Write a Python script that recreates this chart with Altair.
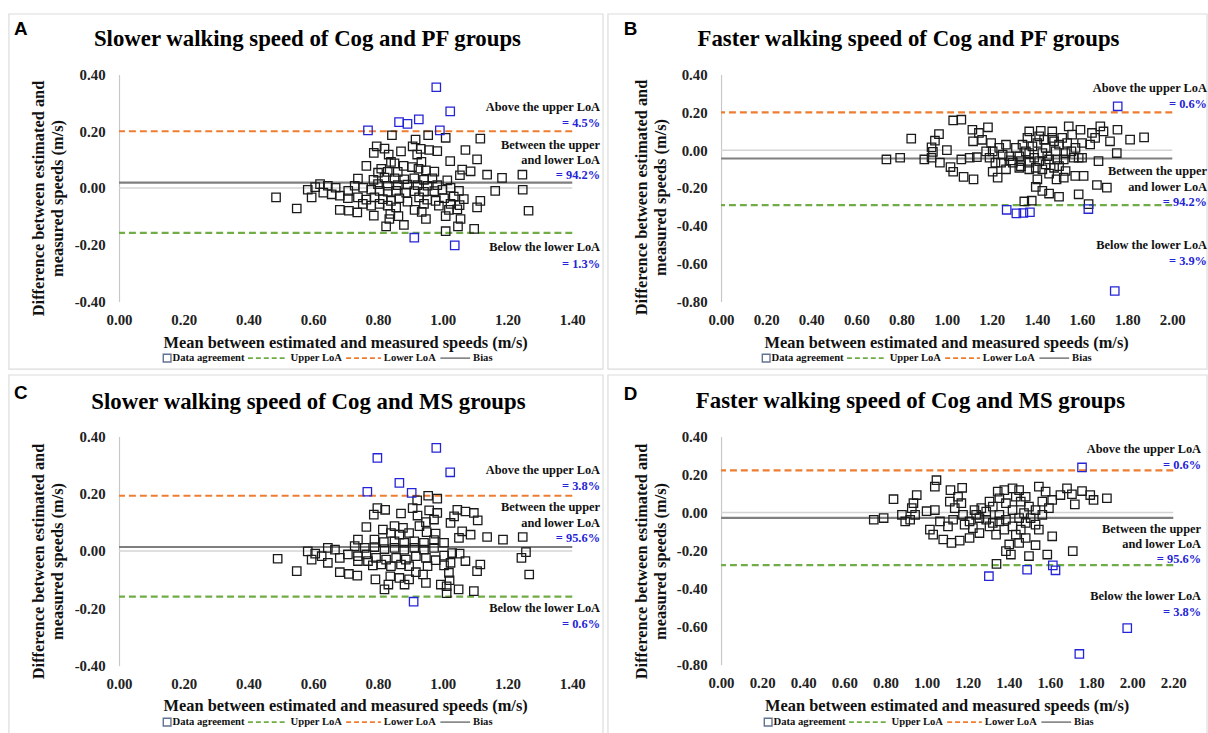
import altair as alt
import pandas as pd

SERIF = "Liberation Serif"
SANS = "Liberation Sans"
BLUE = "#2424d8"

# ---------------- data (mean, difference) ----------------
a_in = [(0.843,0.186),(0.955,0.186),(1.009,0.177),(1.116,0.174),(0.916,0.171),
 (0.796,0.147),(0.820,0.139),(0.787,0.124),(0.833,0.118),(0.871,0.129),(0.907,0.147),(0.932,0.138),(0.958,0.134),(0.983,0.130),(0.921,0.118),(1.070,0.134),(1.023,0.095),(1.106,0.101),(0.934,0.092),(0.840,0.092),(0.764,0.078),
 (0.810,0.068),(0.851,0.087),(0.879,0.078),(0.905,0.074),(0.925,0.068),(0.948,0.062),(0.974,0.058),(0.861,0.057),(0.830,0.057),(0.800,0.054),(0.738,0.033),(1.060,0.065),(1.086,0.059),(1.053,0.045),(1.137,0.047),(1.183,0.036),(1.246,0.047),(1.014,0.027),(0.786,0.029),(0.820,0.037),(0.851,0.034),(0.881,0.031),(0.912,0.034),(0.942,0.029),(0.968,0.034),(0.800,0.014),(0.830,0.008),(0.861,0.010),(0.891,0.012),(0.922,0.010),(0.953,0.008),(0.983,0.010),
 (0.621,0.014),(0.583,-0.006),(0.606,0.003),(0.645,0.008),(0.669,0.001),(0.631,-0.016),(0.657,-0.022),(0.708,-0.010),(0.728,0.008),(0.754,0.001),(0.779,-0.006),(0.805,-0.010),(0.830,-0.013),(0.856,-0.010),(0.887,-0.016),(0.912,-0.011),(0.942,-0.013),(0.974,-0.011),(0.999,-0.006),(1.024,0.001),(1.050,-0.010),(1.162,-0.010),(1.247,-0.006),(0.485,-0.033),
 (0.595,-0.033),(0.682,-0.027),(0.707,-0.036),(0.738,-0.033),(0.764,-0.041),(0.789,-0.033),(0.815,-0.039),(0.840,-0.045),(0.866,-0.036),(0.891,-0.048),(0.927,-0.033),(0.952,-0.041),(0.978,-0.045),(1.004,-0.036),(1.034,-0.030),(1.065,-0.039),(1.116,-0.045),(1.106,-0.068),(0.753,-0.056),(0.779,-0.062),(0.805,-0.056),(0.830,-0.062),(0.856,-0.068),(0.942,-0.056),(0.988,-0.062),(1.024,-0.056),(1.052,-0.060),(0.549,-0.072),(0.682,-0.077),(0.710,-0.080),(0.736,-0.086),(0.913,-0.077),(0.935,-0.084),(1.019,-0.077),(1.045,-0.075),(1.265,-0.080),(0.787,-0.097),(0.838,-0.091),(0.863,-0.099),(1.009,-0.099),(0.948,-0.109),(0.835,-0.109),(1.055,-0.109),(0.825,-0.135),(1.009,-0.152),(1.047,-0.135),(1.097,-0.144),(0.880,-0.130)]
a_out = [(0.980,0.355),(1.023,0.270),(0.865,0.232),(0.891,0.226),(0.926,0.242),(0.769,0.203),(0.991,0.203),(0.912,-0.175),(1.037,-0.202)]

b_in = [(1.029,0.157),(1.065,0.161),(0.843,0.061),(0.966,0.085),(0.948,0.050),(0.933,0.015),(1.001,0.000),(0.939,-0.009),(0.901,-0.049),(0.933,-0.040),(0.733,-0.049),(0.794,-0.040),(0.970,-0.066),(1.017,-0.089),(1.029,-0.114),(1.075,-0.141),(1.119,-0.154),(1.065,-0.049),(1.102,-0.040),(1.134,-0.037),
 (1.114,0.108),(1.143,0.091),(1.183,0.121),(1.117,0.047),(1.157,0.055),(1.197,0.038),(1.175,-0.006),(1.190,-0.040),(1.216,-0.066),(1.204,-0.114),(1.226,-0.145),(1.233,0.012),(1.263,0.029),(1.248,-0.023),(1.277,-0.032),(1.293,-0.066),(1.263,-0.101),(1.307,0.012),(1.322,-0.032),(1.329,-0.084),(1.351,-0.006),(1.358,0.065),(1.366,0.099),(1.380,0.020),(1.388,-0.040),(1.395,-0.093),(1.402,-0.154),
 (1.417,0.102),(1.432,0.055),(1.439,0.012),(1.446,-0.032),(1.439,-0.075),(1.454,-0.124),(1.468,0.099),(1.476,0.047),(1.483,-0.006),(1.490,-0.049),(1.487,-0.154),(1.498,-0.084),(1.519,-0.145),(1.541,0.126),(1.556,0.082),(1.534,0.038),(1.553,-0.006),(1.563,-0.040),(1.527,-0.110),(1.570,-0.136),(1.607,-0.136),(1.593,0.108),(1.600,0.038),(1.600,-0.040),
 (1.644,0.091),(1.658,0.065),(1.636,0.030),(1.681,0.126),(1.695,0.099),(1.724,0.047),(1.757,0.108),(1.754,-0.015),(1.673,-0.058),(1.666,-0.184),(1.710,-0.198),(1.585,-0.233),(1.813,0.056),(1.875,0.068),(1.395,-0.194),(1.424,-0.215),(1.454,-0.229),(1.498,-0.246),(1.344,-0.271),(1.377,-0.267),(1.629,-0.285),
 (1.204,-0.006),(1.241,-0.066),(1.285,-0.054),(1.329,-0.058),(1.366,-0.066),(1.410,-0.058),(1.454,-0.049),(1.519,-0.049),(1.585,-0.040),(1.336,0.029),(1.402,0.038),(1.498,0.029),(1.571,0.012),(1.366,-0.015),(1.424,-0.015),(1.527,-0.015),(1.410,0.073),(1.468,0.065),(1.512,0.065),(1.322,-0.093),(1.366,-0.101),(1.424,-0.101),(1.476,-0.093)]
b_out = [(1.758,0.232),(1.266,-0.315),(1.309,-0.334),(1.340,-0.332),(1.369,-0.328),(1.628,-0.311),(1.745,-0.744)]

c_in = [(0.955,0.193),(0.983,0.183),(0.921,0.177),(0.798,0.150),(0.822,0.144),(0.787,0.127),(0.871,0.131),(0.907,0.150),(0.958,0.142),(0.983,0.133),(0.922,0.124),(1.045,0.144),(1.070,0.138),(1.096,0.133),(1.035,0.121),(1.108,0.107),(1.024,0.098),(0.973,0.110),(0.948,0.101),(0.928,0.087),(0.764,0.084),(0.851,0.087),(0.877,0.081),(0.815,0.075),
 (0.840,0.063),(0.866,0.057),(0.896,0.063),(0.950,0.066),(0.978,0.061),(1.060,0.069),(1.086,0.057),(1.050,0.046),(1.137,0.049),(1.186,0.040),(1.247,0.049),(0.738,0.040),(0.789,0.040),(0.818,0.031),(0.851,0.034),(0.881,0.029),(0.912,0.034),(0.942,0.029),(0.973,0.038),(1.004,0.029),
 (0.728,0.017),(0.759,0.011),(0.789,0.014),(0.820,0.007),(0.851,0.011),(0.881,0.005),(0.912,0.011),(0.942,0.005),(0.973,0.011),(0.645,0.011),(0.583,-0.001),(0.606,-0.009),(0.626,-0.018),(0.667,0.005),(0.645,-0.041),(0.595,-0.030),(0.490,-0.027),
 (0.682,-0.024),(0.707,-0.012),(0.738,-0.018),(0.764,-0.012),(0.738,-0.035),(0.769,-0.035),(0.794,-0.024),(0.825,-0.030),(0.856,-0.024),(0.886,-0.030),(0.917,-0.018),(0.948,-0.024),(0.978,-0.032),(1.004,-0.016),(1.029,-0.007),(1.052,-0.009),(1.070,-0.035),(1.024,-0.041),
 (0.784,-0.050),(0.810,-0.047),(0.840,-0.053),(0.871,-0.047),(0.896,-0.053),(0.953,-0.053),(1.004,-0.050),(1.116,-0.047),(1.106,-0.070),(1.243,-0.024),(1.257,-0.004),(0.549,-0.070),(0.682,-0.074),(0.710,-0.080),(0.736,-0.086),(0.917,-0.074),(0.939,-0.082),(1.019,-0.076),(1.267,-0.082),
 (0.792,-0.099),(0.838,-0.088),(0.866,-0.094),(0.896,-0.099),(0.948,-0.111),(1.021,-0.102),(0.832,-0.117),(0.882,-0.117),(0.994,-0.117),(1.012,-0.123),(0.820,-0.134),(1.049,-0.134),(1.012,-0.147),(1.096,-0.140)]
c_out = [(0.980,0.360),(0.798,0.325),(1.023,0.275),(0.866,0.238),(0.767,0.207),(0.904,0.203),(0.910,-0.177)]

d_in = [(0.839,0.070),(0.743,-0.038),(0.791,-0.029),(0.952,0.092),(0.936,0.049),(0.928,0.023),(0.944,-0.012),(0.896,-0.047),(0.880,-0.012),(0.920,-0.038),(1.000,0.007),(1.040,0.013),(1.048,0.170),(1.040,0.136),(1.116,0.118),(1.173,0.130),(1.113,0.057),(1.153,0.083),(1.169,0.049),(1.137,0.023),
 (1.016,-0.090),(1.032,-0.116),(1.081,-0.142),(1.121,-0.160),(1.161,-0.148),(1.209,-0.134),(1.065,-0.047),(1.104,-0.073),(1.129,-0.038),(1.177,-0.012),(1.209,-0.047),(1.225,-0.082),(1.257,-0.108),(1.185,-0.064),(1.233,0.013),(1.266,0.023),(1.257,-0.029),(1.290,-0.038),(1.241,-0.012),(1.306,-0.073),(1.338,-0.116),
 (1.322,0.031),(1.354,0.075),(1.346,0.110),(1.378,0.118),(1.418,0.127),(1.450,0.118),(1.386,0.049),(1.418,0.013),(1.354,-0.012),(1.386,-0.038),(1.418,-0.073),(1.434,-0.116),(1.402,-0.168),(1.386,-0.203),(1.410,-0.221),(1.450,-0.160),(1.482,-0.134),
 (1.458,0.057),(1.482,0.083),(1.498,0.031),(1.474,-0.003),(1.506,-0.029),(1.530,-0.064),(1.482,-0.055),(1.546,0.136),(1.579,0.110),(1.563,0.057),(1.595,0.023),(1.611,0.066),(1.651,0.092),(1.683,0.127),(1.707,0.096),(1.756,0.113),(1.721,0.043),(1.796,0.092),(1.812,0.066),(1.877,0.075),
 (1.611,-0.125),(1.530,-0.172),(1.498,-0.229),(1.587,-0.221),(1.711,-0.203),(1.340,-0.270),(1.563,-0.012),(1.290,0.005),(1.306,0.057),(1.434,0.083),(1.530,0.013),(1.354,-0.047),(1.450,-0.029),(1.546,-0.090),(1.458,-0.090),(1.378,-0.090),(1.322,-0.055)]
d_out = [(1.756,0.237),(1.303,-0.335),(1.489,-0.301),(1.614,-0.278),(1.627,-0.304),(1.976,-0.608),(1.743,-0.744)]

# limits of agreement: (upper, lower, bias)
a_loa = (0.200, -0.158, 0.019)
b_loa = (0.200, -0.290, -0.044)
c_loa = (0.193, -0.159, 0.014)
d_loa = (0.222, -0.277, -0.028)

ticks_y_small = [-0.4, -0.2, 0.0, 0.2, 0.4]
ticks_y_big = [-0.8, -0.6, -0.4, -0.2, 0.0, 0.2, 0.4]
ticks_x_14 = [0.0, 0.2, 0.4, 0.6, 0.8, 1.0, 1.2, 1.4]
ticks_x_20 = [0.0, 0.2, 0.4, 0.6, 0.8, 1.0, 1.2, 1.4, 1.6, 1.8, 2.0]
ticks_x_22 = [0.0, 0.2, 0.4, 0.6, 0.8, 1.0, 1.2, 1.4, 1.6, 1.8, 2.0, 2.2]

titles = ["Slower walking speed of Cog and PF groups", "Faster walking speed of Cog and PF groups",
          "Slower walking speed of Cog and MS groups", "Faster walking speed of Cog and MS groups"]
pct_above = ["= 4.5%", "= 0.6%", "= 3.8%", "= 0.6%"]
pct_between = ["= 94.2%", "= 94.2%", "= 95.6%", "= 95.6%"]
pct_below = ["= 1.3%", "= 3.9%", "= 0.6%", "= 3.8%"]

LABEL_EXPR = "(datum.value < -0.0001 ? '-' : '') + format(abs(datum.value), '.2f')"
ONE = pd.DataFrame({"k": [0]})


def txt(s, x, y, size, color="#111111", align="center", angle=0, font=SERIF, weight="bold"):
    return alt.Chart(ONE).mark_text(text=s, fontSize=size, font=font, fontWeight=weight, color=color,
                                    align=align, baseline="middle", angle=angle).encode(
        x=alt.value(x), y=alt.value(y))


def hseg(x1, x2, y, color, dash=None, width=2.0):
    kw = dict(color=color, strokeWidth=width)
    if dash:
        kw["strokeDash"] = dash
    return alt.Chart(ONE).mark_rule(**kw).encode(x=alt.value(x1), x2=alt.value(x2), y=alt.value(y))


def panel(pts_in, pts_out, loa, xmax, xticks, ymin, yticks, w, h, p):
    xscale = alt.Scale(domain=[0, xmax], nice=False, zero=False)
    yscale = alt.Scale(domain=[ymin, 0.4], nice=False, zero=False)
    xaxis = alt.Axis(values=xticks, labelExpr=LABEL_EXPR, domain=False, ticks=False, tickSize=0, grid=False,
                     title=None, labelFont=SERIF, labelFontWeight="bold", labelFontSize=15, labelColor="#222222",
                     labelPadding=11, labelFlush=False, labelOverlap=False)
    yaxis = alt.Axis(values=yticks, labelExpr=LABEL_EXPR, domain=True, domainColor="#c8c8c8", domainWidth=1.2,
                     ticks=False, tickSize=0, grid=False, title=None, labelFont=SERIF, labelFontWeight="bold",
                     labelFontSize=15, labelColor="#222222", labelPadding=14, labelFlush=False, labelOverlap=False)
    upper, lower, bias = loa

    border = alt.Chart(ONE).mark_rect(fillOpacity=0, stroke="#dcdcdc", strokeWidth=1.2).encode(
        x=alt.value(p["bx1"]), x2=alt.value(p["bx2"]), y=alt.value(p["by1"]), y2=alt.value(p["by2"]))

    def rule(v, color, width, dash=None):
        kw = dict(color=color, strokeWidth=width)
        if dash:
            kw["strokeDash"] = dash
        return alt.Chart(pd.DataFrame({"y": [v]})).mark_rule(**kw).encode(
            y=alt.Y("y:Q", scale=yscale, axis=yaxis))

    def pts(data, color):
        df = pd.DataFrame(data, columns=["x", "y"])
        return alt.Chart(df).mark_point(shape="square", filled=False, size=72, strokeWidth=1.3,
                                        color=color, opacity=1).encode(
            x=alt.X("x:Q", scale=xscale, axis=xaxis), y=alt.Y("y:Q", scale=yscale, axis=yaxis))

    layers = [border,
              rule(0.0, "#d4d4d4", 1.6),
              rule(bias, "#7f7f7f", 2.2),
              rule(upper, "#ED7D31", 2.2, [7, 4]),
              rule(lower, "#70AD47", 2.2, [7, 4]),
              pts(pts_in, "#1a1a1a"),
              pts(pts_out, BLUE)]

    # panel letter and title
    layers.append(txt(p["letter"], p["lx"], p["ly"], 19, "#000000", "left", font=SANS))
    layers.append(txt(p["title"], p["tx"], p["ty"], 23, "#000000"))
    # axis titles
    layers.append(txt("Difference between estimated and", p["yt1"], p["yty"], 16.5, angle=270))
    layers.append(txt("measured speeds (m/s)", p["yt2"], p["yty"], 16.5, angle=270))
    layers.append(txt("Mean between estimated and  measured  speeds (m/s)", w / 2, p["xty"], 16.5))
    # legend
    lg = p["lgx"]
    ly = p["lgy"]
    layers.append(alt.Chart(ONE).mark_point(shape="square", filled=False, size=60, strokeWidth=1.4,
                                            color="#1f3864").encode(x=alt.value(lg + 3.5), y=alt.value(ly)))
    layers.append(txt("Data agreement", lg + 9, ly, 10.7, align="left"))
    layers.append(hseg(lg + 85, lg + 125, ly, "#70AD47", [5, 3], 1.6))
    layers.append(txt("Upper LoA", lg + 128, ly, 10.7, align="left"))
    layers.append(hseg(lg + 184, lg + 219, ly, "#ED7D31", [5, 3], 1.6))
    layers.append(txt("Lower LoA", lg + 222, ly, 10.7, align="left"))
    layers.append(hseg(lg + 279, lg + 309, ly, "#7f7f7f", None, 1.6))
    layers.append(txt("Bias", lg + 312, ly, 10.7, align="left"))
    # annotations
    ax = p["ax"]
    a = p["ay"]
    layers.append(txt("Above the upper LoA", ax, a[0], 12.5, align="right"))
    layers.append(txt(p["above"], ax, a[1], 12.5, BLUE, "right"))
    layers.append(txt("Between the upper", ax, a[2], 12.5, align="right"))
    layers.append(txt("and lower LoA", ax, a[3], 12.5, align="right"))
    layers.append(txt(p["between"], ax, a[4], 12.5, BLUE, "right"))
    layers.append(txt("Below the lower LoA", ax, a[5], 12.5, align="right"))
    layers.append(txt(p["below"], ax, a[6], 12.5, BLUE, "right"))

    return alt.layer(*layers).properties(width=w, height=h)


pA = dict(bx1=-111, bx2=488, by1=-61, by2=297, letter="A", lx=-106, ly=-46, title=titles[0], tx=190, ty=-36,
          yt1=-81, yt2=-61, yty=125, xty=271, lgx=45, lgy=286, ax=485, ay=[33, 49, 71, 86, 101, 174, 191],
          above=pct_above[0], between=pct_between[0], below=pct_below[0])
pB = dict(bx1=-114, bx2=490, by1=-61, by2=297, letter="B", lx=-98, ly=-46, title=titles[1], tx=189, ty=-36,
          yt1=-80, yt2=-60, yty=124, xty=271, lgx=42, lgy=286, ax=490, ay=[14, 30, 97, 113, 129, 172, 188],
          above=pct_above[1], between=pct_between[1], below=pct_below[1])
pC = dict(bx1=-111, bx2=488, by1=-62, by2=310, letter="C", lx=-106, ly=-44, title=titles[2], tx=191, ty=-35,
          yt1=-81, yt2=-61, yty=126, xty=272, lgx=45, lgy=288, ax=485, ay=[34, 50, 71, 87, 102, 173, 189],
          above=pct_above[2], between=pct_between[2], below=pct_below[2])
pD = dict(bx1=-114, bx2=490, by1=-62, by2=310, letter="D", lx=-98, ly=-43, title=titles[3], tx=191, ty=-36,
          yt1=-80, yt2=-60, yty=126, xty=272, lgx=44, lgy=288, ax=484, ay=[13, 29, 93, 108, 124, 161, 177],
          above=pct_above[3], between=pct_between[3], below=pct_below[3])

A = panel(a_in, a_out, a_loa, 1.4, ticks_x_14, -0.4, ticks_y_small, 457, 229, pA)
B = panel(b_in, b_out, b_loa, 2.0, ticks_x_20, -0.8, ticks_y_big, 455, 229, pB)
C = panel(c_in, c_out, c_loa, 1.4, ticks_x_14, -0.4, ticks_y_small, 457, 231, pC)
D = panel(d_in, d_out, d_loa, 2.2, ticks_x_22, -0.8, ticks_y_big, 456, 230, pD)

chart = alt.concat(A, B, C, D, columns=2, spacing={"row": 136, "column": 150}, bounds="flush").properties(
    padding={"left": 8, "top": 10, "right": 0, "bottom": 0}, background="white"
).configure_view(stroke=None)

chart.save("out.html", embed_options={"renderer": "svg", "actions": False})
